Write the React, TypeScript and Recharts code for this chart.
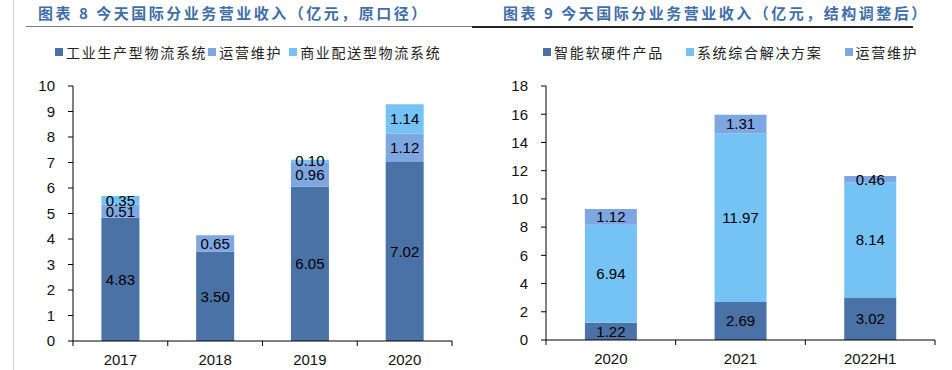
import React from 'react';
import { BarChart, Bar, XAxis, YAxis, LabelList } from 'recharts';

// ---- Chart 8 data (原口径) ----
const years8 = ['2017', '2018', '2019', '2020'];
const industrial8 = [4.83, 3.5, 6.05, 7.02];
const maintenance8 = [0.51, 0.65, 0.96, 1.12];
const commercial8: (number | null)[] = [0.35, null, 0.1, 1.14];
const ticks8 = [0, 1, 2, 3, 4, 5, 6, 7, 8, 9, 10];

// ---- Chart 9 data (结构调整后) ----
const years9 = ['2020', '2021', '2022H1'];
const smart9 = [1.22, 2.69, 3.02];
const solution9 = [6.94, 11.97, 8.14];
const maintenance9 = [1.12, 1.31, 0.46];
const ticks9 = [0, 2, 4, 6, 8, 10, 12, 14, 16, 18];

const title8 = '图表 8 今天国际分业务营业收入（亿元，原口径）';
const title9 = '图表 9 今天国际分业务营业收入（亿元，结构调整后）';

const DARK = '#4A72A6';
const MID = '#7EA6E0';
const LIGHT = '#75C2F4';

const series8 = [
  { key: 'industrial', name: '工业生产型物流系统', color: DARK },
  { key: 'maintenance', name: '运营维护', color: MID },
  { key: 'commercial', name: '商业配送型物流系统', color: LIGHT },
];
const series9 = [
  { key: 'smart', name: '智能软硬件产品', color: DARK },
  { key: 'solution', name: '系统综合解决方案', color: LIGHT },
  { key: 'maintenance', name: '运营维护', color: MID },
];

const data8 = years8.map((y, i) => ({
  year: y,
  industrial: industrial8[i],
  maintenance: maintenance8[i],
  commercial: commercial8[i],
}));
const data9 = years9.map((y, i) => ({
  year: y,
  smart: smart9[i],
  solution: solution9[i],
  maintenance: maintenance9[i],
}));

const NUM_FONT = '"Liberation Sans", Arial, sans-serif';
const CJK_FONT = '"Noto Sans CJK SC", "Noto Sans", sans-serif';

const fmt = (v: any) => (v == null || v === '' ? '' : Number(v).toFixed(2));

const XTick = (props: any) => {
  const { x, y, payload, index, visibleTicksCount, width } = props;
  const half =
    payload && typeof payload.offset === 'number' && payload.offset > 0
      ? payload.offset
      : width / visibleTicksCount / 2;
  const axisY = y - 13;
  return (
    <g>
      <line x1={x - half} x2={x - half} y1={axisY} y2={axisY + 5} stroke="#000" strokeWidth={1} />
      {index === visibleTicksCount - 1 && (
        <line x1={x + half} x2={x + half} y1={axisY} y2={axisY + 5} stroke="#000" strokeWidth={1} />
      )}
      <text
        x={x}
        y={y}
        dy="0.71em"
        textAnchor="middle"
        fill="#111"
        fontSize={15}
        fontFamily={NUM_FONT}
      >
        {payload.value}
      </text>
    </g>
  );
};

const Legend = ({ items, left, top, gaps, textGap }: any) => (
  <div
    style={{
      position: 'absolute',
      left,
      top,
      display: 'flex',
      alignItems: 'center',
      fontFamily: CJK_FONT,
      fontSize: 14,
      letterSpacing: 1.7,
      color: '#222',
      whiteSpace: 'nowrap',
      lineHeight: '16px',
    }}
  >
    {items.map((s: any, i: number) => (
      <div key={s.key} style={{ display: 'flex', alignItems: 'center', marginRight: gaps[i] }}>
        <span style={{ display: 'inline-block', width: 8, height: 8, background: s.color, marginRight: textGap }} />
        <span>{s.name}</span>
      </div>
    ))}
  </div>
);

const Title = ({ text, left }: any) => (
  <div
    style={{
      position: 'absolute',
      left,
      top: 4,
      fontFamily: CJK_FONT,
      fontWeight: 700,
      fontSize: 15,
      letterSpacing: 2.5,
      color: '#3F6EA9',
      whiteSpace: 'nowrap',
      lineHeight: '18px',
    }}
  >
    {text}
  </div>
);

const valueLabel = { fill: '#000', fontSize: 15, fontFamily: NUM_FONT } as any;

export default function App() {
  return (
    <div
      style={{
        position: 'absolute',
        left: 0,
        top: 0,
        width: 952,
        height: 370,
        background: '#fff',
        overflow: 'hidden',
      }}
    >
      {/* page border line */}
      <div style={{ position: 'absolute', left: 13, top: 0, width: 1, height: 370, background: '#cfcfcf' }} />
      {/* title underlines */}
      <div style={{ position: 'absolute', left: 26, top: 26, width: 447, height: 1, background: '#777' }} />
      <div style={{ position: 'absolute', left: 472, top: 26, width: 441, height: 2, background: '#222' }} />

      <Title text={title8} left={38} />
      <Title text={title9} left={503} />

      <Legend items={series8} left={55} top={44} gaps={[1, 7, 0]} textGap={3} />
      <Legend items={series9} left={543} top={44} gaps={[22, 22, 0]} textGap={3} />

      {/* Chart 8 */}
      <div style={{ position: 'absolute', left: 0, top: 0 }}>
        <BarChart
          width={476}
          height={370}
          data={data8}
          margin={{ top: 86, right: 24, bottom: 0, left: 0 }}
          barCategoryGap="30%"
        >
          <XAxis
            dataKey="year"
            stroke="#000"
            tickLine={false}
            tickSize={5}
            tickMargin={8}
            height={29}
            tick={<XTick />}
            interval={0}
          />
          <YAxis
            domain={[0, 10]}
            ticks={ticks8}
            stroke="#000"
            width={73}
            tickSize={5}
            tickMargin={13}
            interval={0}
            tick={{ fill: '#111', fontSize: 15, fontFamily: NUM_FONT }}
          />
          {series8.map((s) => (
            <Bar key={s.key} dataKey={s.key} name={s.name} stackId="a" fill={s.color} isAnimationActive={false}>
              <LabelList dataKey={s.key} position="center" formatter={fmt} style={valueLabel} />
            </Bar>
          ))}
        </BarChart>
      </div>

      {/* Chart 9 */}
      <div style={{ position: 'absolute', left: 476, top: 0 }}>
        <BarChart
          width={476}
          height={370}
          data={data9}
          margin={{ top: 86, right: 17, bottom: 0, left: 0 }}
          barCategoryGap="30%"
        >
          <XAxis
            dataKey="year"
            stroke="#000"
            tickLine={false}
            tickSize={5}
            tickMargin={8}
            height={30}
            tick={<XTick />}
            interval={0}
          />
          <YAxis
            domain={[0, 18]}
            ticks={ticks9}
            stroke="#000"
            width={70}
            tickSize={5}
            tickMargin={13}
            interval={0}
            tick={{ fill: '#111', fontSize: 15, fontFamily: NUM_FONT }}
          />
          {series9.map((s) => (
            <Bar key={s.key} dataKey={s.key} name={s.name} stackId="a" fill={s.color} isAnimationActive={false}>
              <LabelList dataKey={s.key} position="center" formatter={fmt} style={valueLabel} />
            </Bar>
          ))}
        </BarChart>
      </div>
    </div>
  );
}
